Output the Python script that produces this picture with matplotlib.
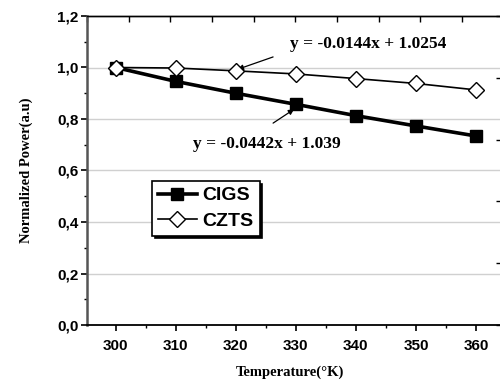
import matplotlib
matplotlib.use("Agg")
import matplotlib.pyplot as plt
import numpy as np
from matplotlib.ticker import FuncFormatter, MultipleLocator

temps = [300, 310, 320, 330, 340, 350, 360]
cigs = [1.0, 0.946, 0.900, 0.857, 0.813, 0.773, 0.734]
czts = [1.0, 0.998, 0.987, 0.975, 0.957, 0.938, 0.913]
eq_czts = "y = -0.0144x + 1.0254"
eq_cigs = "y = -0.0442x + 1.039"
xlabel = "Temperature(°K)"
ylabel = "Normalized Power(a.u)"

fig = plt.figure(figsize=(5.0, 3.83), dpi=100)
W, H = 500, 383
ax = fig.add_axes([87 / W, 1 - 325 / H, (506 - 87) / W, (325 - 16) / H])
ax.set_xlim(295.2, 365)
ax.set_ylim(0, 1.2)

ax.yaxis.set_major_locator(MultipleLocator(0.2))
ax.yaxis.set_minor_locator(MultipleLocator(0.1))
ax.xaxis.set_major_locator(MultipleLocator(10))
ax.xaxis.set_minor_locator(MultipleLocator(5))
ax.yaxis.set_major_formatter(FuncFormatter(lambda v, p: f"{v:.1f}".replace(".", ",")))

for yv in np.arange(0.2, 1.01, 0.2):
    ax.axhline(yv, color="#d0d0d0", lw=1.0, zorder=0)

ax.plot(temps, cigs, color="black", lw=2.6, marker="s", markersize=9,
        markerfacecolor="black", label="CIGS", zorder=3)
ax.plot(temps, czts, color="black", lw=1.2, marker="D", markersize=8.5,
        markerfacecolor="white", markeredgewidth=1.0, label="CZTS", zorder=4)

ax.spines["left"].set_color("#555555")
ax.spines["left"].set_linewidth(1.8)
ax.spines["bottom"].set_linewidth(1.3)
ax.spines["top"].set_linewidth(1.0)
ax.spines["right"].set_linewidth(1.0)

ax.tick_params(axis="both", which="major", direction="out", length=4, width=1.2,
               top=False, right=False, labelsize=11)
ax.tick_params(axis="both", which="minor", direction="out", length=2.5, width=1.0,
               top=False, right=False)
ax.tick_params(axis="x", pad=6)
ax.tick_params(axis="y", pad=2)
for lab in ax.get_xticklabels() + ax.get_yticklabels():
    lab.set_family("Liberation Sans")
    lab.set_fontweight("bold")

# top and right decorative ticks
top = ax.secondary_xaxis("top")
top.set_xticks(295.2 + np.arange(0, 11) * 6.944)
top.tick_params(direction="in", length=4, width=1.0, labeltop=False)
top.spines["top"].set_linewidth(1.0)
right = ax.secondary_yaxis("right")
right.set_yticks(np.linspace(0, 1.2, 6))
right.tick_params(direction="in", length=7, width=1.0, labelright=False)

ax.set_xlabel(xlabel, fontfamily="Liberation Serif", fontweight="bold", fontsize=10.5)
ax.set_ylabel(ylabel, fontfamily="Liberation Serif", fontweight="bold", fontsize=10.5)
ax.xaxis.set_label_coords((290 - 87) / 419, -0.13)
ax.yaxis.set_label_coords(-0.13, 0.5)

txt_kw = dict(fontfamily="Liberation Serif", fontweight="bold", fontsize=12.5,
              ha="left", va="center")
arr_kw = dict(arrowstyle="-|>", color="black", lw=0.9, mutation_scale=8,
              shrinkA=0, shrinkB=0)
ax.text(329.0, 1.091, eq_czts, **txt_kw)
ax.annotate("", xy=(320.3, 0.993), xytext=(326.2, 1.041), arrowprops=arr_kw)
ax.text(312.8, 0.703, eq_cigs, **txt_kw)
ax.annotate("", xy=(329.7, 0.838), xytext=(326.2, 0.784), arrowprops=arr_kw)

leg = ax.legend(loc="upper left", bbox_to_anchor=(65 / 419, (325 - 181) / 309),
                borderaxespad=0, frameon=True, fancybox=False,
                shadow={"color": "black", "alpha": 1.0},
                prop={"family": "Liberation Sans", "weight": "bold", "size": 14},
                handlelength=2.0, handletextpad=0.3, borderpad=0.3,
                labelspacing=0.4)
leg.get_frame().set_edgecolor("black")
leg.get_frame().set_linewidth(1.2)

fig.savefig("out.png", dpi=100)
